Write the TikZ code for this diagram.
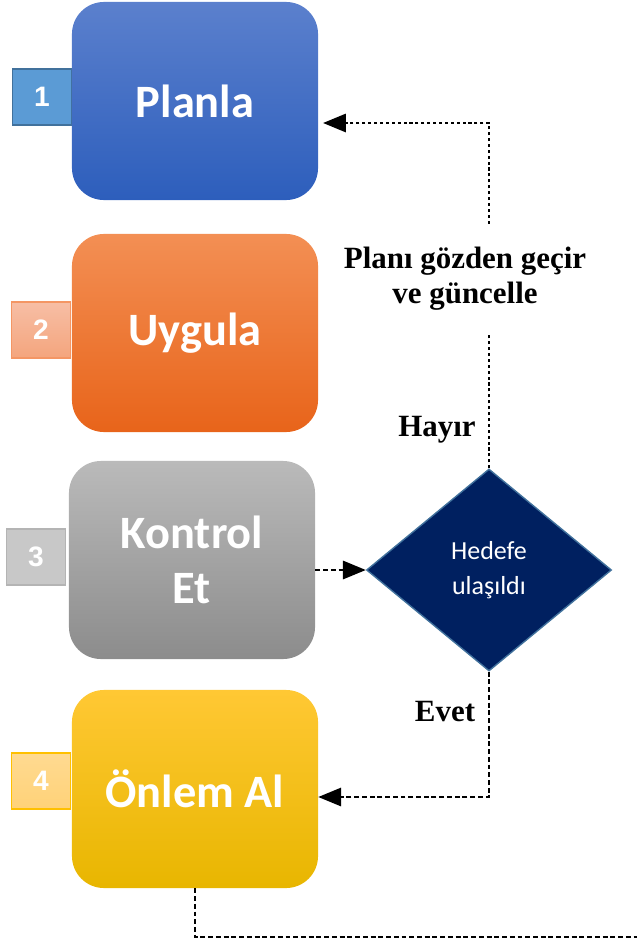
\documentclass[tikz,border=0pt]{standalone}
\usepackage{fontspec}
\usepackage{xcolor}
\usepackage{tikz}
\usetikzlibrary{shapes.geometric,arrows.meta}
\setmainfont{Liberation Serif}
\newfontfamily\boxfont{Carlito}
\newfontfamily\numfont{Liberation Sans}
\definecolor{planTop}{RGB}{91,128,205}
\definecolor{planBot}{RGB}{45,94,188}
\definecolor{doTop}{RGB}{243,143,84}
\definecolor{doBot}{RGB}{232,100,26}
\definecolor{checkTop}{RGB}{186,186,186}
\definecolor{checkBot}{RGB}{140,140,140}
\definecolor{actTop}{RGB}{255,200,52}
\definecolor{actBot}{RGB}{232,182,0}
\definecolor{goalFill}{RGB}{0,32,96}
\definecolor{goalLine}{RGB}{65,113,156}

\begin{document}
\begin{tikzpicture}[x=0.025cm,y=-0.025cm,
  stage/.style={rounded corners=0.8cm,minimum width=6.15cm,minimum height=4.95cm,
    text=white,align=center,font=\boxfont\bfseries\fontsize{33}{39}\selectfont},
  numbox/.style={minimum width=1.475cm,minimum height=1.4cm,line width=0.8pt,
    text=white,font=\numfont\bfseries\fontsize{20}{22}\selectfont},
  answer/.style={font=\bfseries\fontsize{22}{25}\selectfont},
  flow/.style={line width=1.2pt,dash pattern=on 3.5pt off 2pt,
    -{Triangle[length=0.57cm,width=0.46cm]}},
  dotflow/.style={flow,dash pattern=on 2.2pt off 2pt}]
\useasboundingbox (0,0) rectangle (637,939);

\node[numbox,fill={rgb,255:red,91;green,155;blue,213},draw={rgb,255:red,65;green,113;blue,156}] (n1) at (42,97) {1};
\node[numbox,top color={rgb,255:red,247;green,190;blue,165},bottom color={rgb,255:red,244;green,165;blue,125},draw={rgb,255:red,244;green,150;blue,100}] (n2) at (41,330) {2};
\node[numbox,fill={rgb,255:red,200;green,200;blue,200},draw={rgb,255:red,180;green,180;blue,180}] (n3) at (36,557) {3};
\node[numbox,top color={rgb,255:red,255;green,218;blue,145},bottom color={rgb,255:red,255;green,210;blue,120},draw={rgb,255:red,255;green,192;blue,0}] (n4) at (41,781) {4};

\node[stage,top color=planTop,bottom color=planBot] (plan) at (195,101) {Planla};
\node[stage,top color=doTop,bottom color=doBot] (do) at (195,333) {Uygula};
\node[stage,top color=checkTop,bottom color=checkBot] (check) at (192,560) {Kontrol\\Et};
\node[stage,top color=actTop,bottom color=actBot] (act) at (195,789) {Önlem Al};

\node[diamond,fill=goalFill,draw=goalLine,line width=1pt,inner sep=0pt,
  minimum width=6.125cm,minimum height=5.05cm,text=white,align=center,
  font=\boxfont\fontsize{18.5}{25}\selectfont] (goal) at (489,570) {Hedefe\\ulaşıldı};

\node[answer,align=center,minimum height=2.75cm] (review) at (465,279) {Planı gözden geçir\\ve güncelle};
\node[answer] (no) at (437,430) {Hayır};
\node[answer] (yes) at (445,712) {Evet};
\coordinate (bottomend) at (637,937);

\draw[flow] (check.east |- goal.west) -- (goal.west);
\draw[flow] (goal.south) |- ([yshift=-0.2cm]act.east);
\draw[dotflow,-] (goal.north) -- (goal.north |- review.south);
\draw[dotflow,shorten >=0.12cm] (goal.north |- review.north) |- ([yshift=-0.55cm]plan.east);
\draw[flow,-] (act.south) |- (bottomend);
\end{tikzpicture}
\end{document}
